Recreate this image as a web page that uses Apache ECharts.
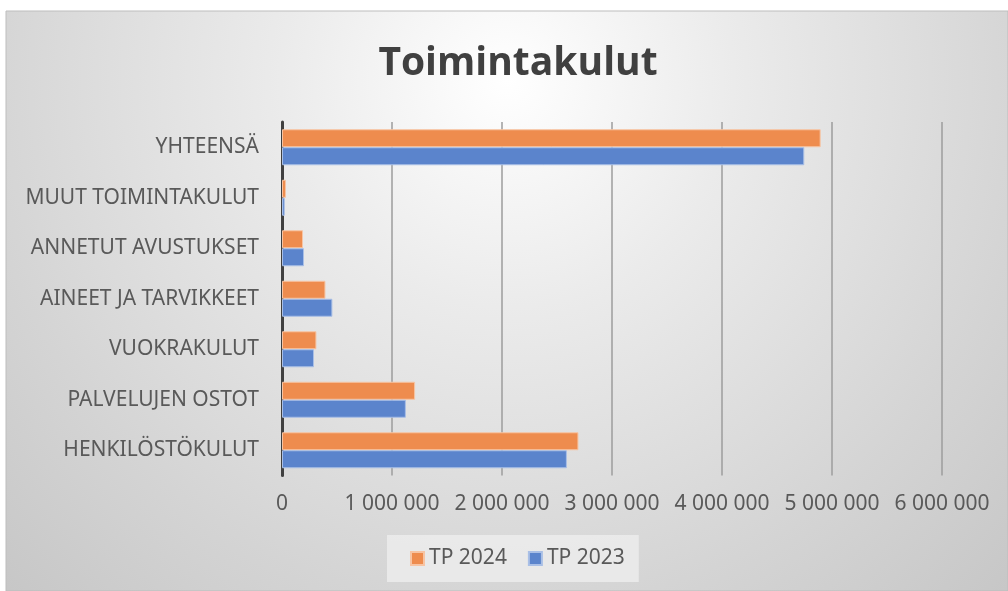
<!DOCTYPE html>
<html>
<head>
<meta charset="utf-8">
<script src="https://cdn.jsdelivr.net/npm/echarts@6/dist/echarts.min.js"></script>
<style>
  html, body { margin: 0; padding: 0; background: #fff; }
  #main { width: 1008px; height: 591px; }
</style>
</head>
<body>
<div id="main"></div>
<script>
// categories bottom -> top (ECharts draws the first category at the bottom)
var categories = ['HENKILÖSTÖKULUT', 'PALVELUJEN OSTOT', 'VUOKRAKULUT', 'AINEET JA TARVIKKEET',
  'ANNETUT AVUSTUKSET', 'MUUT TOIMINTAKULUT', 'YHTEENSÄ'];
var tp2024 = [2695000, 1210000, 313000, 395000, 191000, 36000, 4897000];
var tp2023 = [2590000, 1126000, 291000, 458000, 200000, 25000, 4748000];
var xTicks = [0, 1000000, 2000000, 3000000, 4000000, 5000000, 6000000];

var chart = echarts.init(document.getElementById('main'));

function fmt(v) {
  return String(v).replace(/\B(?=(\d{3})+(?!\d))/g, ' ');
}

var option = {
  backgroundColor: '#ffffff',
  animation: false,
  graphic: [{
    type: 'rect',
    z: -10,
    silent: true,
    shape: { x: 6, y: 11, width: 1002, height: 580 },
    style: {
      fill: {
        type: 'radial', x: 0.5, y: 0.12, r: 1.3,
        colorStops: [
          { offset: 0, color: '#ffffff' },
          { offset: 0.3, color: '#ebebeb' },
          { offset: 0.7, color: '#d4d4d4' },
          { offset: 1, color: '#c4c4c4' }
        ]
      },
      stroke: '#bdbdbd',
      lineWidth: 1
    }
  }],
  title: {
    text: 'Toimintakulut',
    left: 513,
    textAlign: 'center',
    top: 39,
    textStyle: { fontFamily: 'Open Sans', fontWeight: 'bold', fontSize: 39, color: '#404040' }
  },
  legend: {
    data: ['TP 2024', 'TP 2023'],
    left: 387,
    top: 535,
    padding: [13, 14, 13, 23],
    backgroundColor: 'rgba(235,235,235,0.9)',
    icon: 'rect',
    itemWidth: 13,
    itemHeight: 13,
    itemGap: 21,
    textStyle: { fontFamily: 'Noto Sans', fontSize: 21, color: '#595959' }
  },
  grid: { left: 282, right: 66, top: 122, bottom: 115.5, containLabel: false },
  xAxis: {
    type: 'value',
    min: xTicks[0],
    max: xTicks[xTicks.length - 1],
    interval: 1000000,
    axisLine: { show: false },
    axisTick: { show: false },
    splitLine: { show: true, lineStyle: { color: '#9c9c9c', width: 1.5 } },
    axisLabel: {
      margin: 18,
      fontFamily: 'Noto Sans', fontSize: 21, color: '#595959',
      formatter: fmt
    }
  },
  yAxis: {
    type: 'category',
    data: categories,
    axisLine: { show: true, lineStyle: { color: '#404040', width: 3 } },
    axisTick: { show: false },
    axisLabel: { margin: 23, fontFamily: 'Noto Sans', fontSize: 21, color: '#595959' }
  },
  series: [
    {
      name: 'TP 2024',
      type: 'bar',
      data: tp2024,
      barWidth: 18,
      barGap: '0%',
      itemStyle: { color: '#EE8C4E', borderColor: '#F7C4A3', borderWidth: 1 }
    },
    {
      name: 'TP 2023',
      type: 'bar',
      data: tp2023,
      barWidth: 18,
      barGap: '0%',
      itemStyle: { color: '#5B84CC', borderColor: '#A9BFE6', borderWidth: 1 }
    }
  ]
};

chart.setOption(option);
</script>
</body>
</html>
